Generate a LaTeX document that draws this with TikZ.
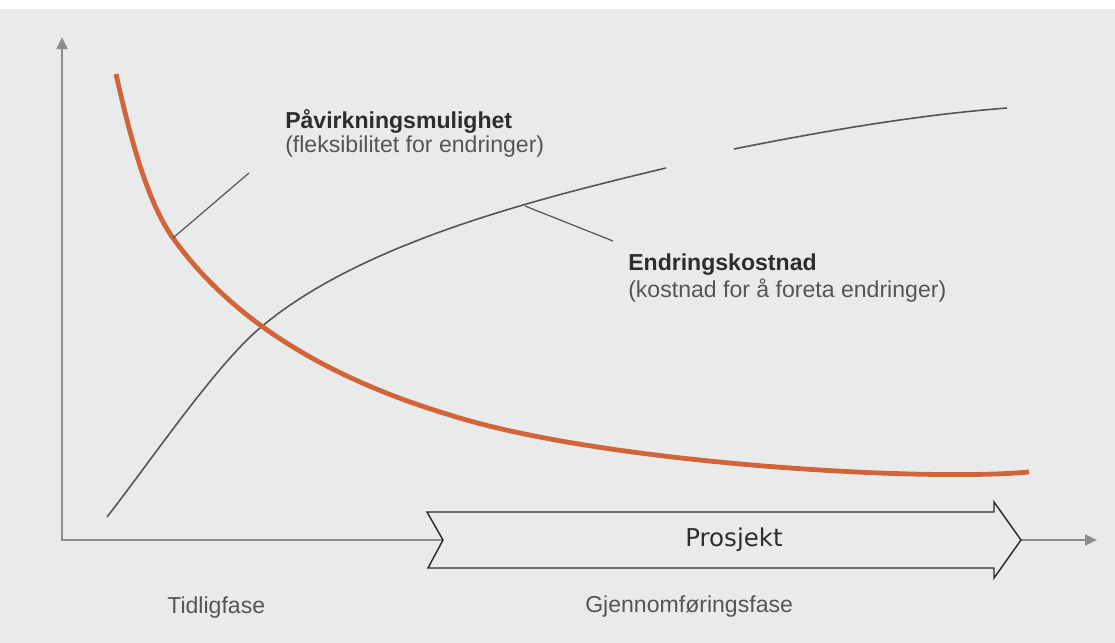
\documentclass[tikz,border=0pt]{standalone}
\usepackage{fontspec}
\setmainfont{Liberation Sans}
\newfontfamily\prosfont{DejaVu Sans}
\usetikzlibrary{arrows.meta}

\definecolor{paper}{RGB}{233,234,234}
\definecolor{curveorange}{RGB}{210,100,58}
\definecolor{axisgrey}{RGB}{140,140,140}
\definecolor{inkgrey}{RGB}{85,85,85}
\definecolor{inkdark}{RGB}{45,45,45}

\begin{document}
\begin{tikzpicture}[x=0.75pt, y=-0.75pt,
    axis/.style={draw=axisgrey, line width=1.9pt,
        {Triangle[width=8pt,length=9pt]}-{Triangle[width=8pt,length=9pt]}},
    costcurve/.style={draw=inkgrey, line width=1.2pt},
    flexcurve/.style={draw=curveorange, line width=3.6pt},
    leader/.style={draw=inkgrey, line width=0.9pt},
    headline/.style={anchor=base west, inner sep=0pt, text=inkdark,
        font=\fontsize{17.3}{20}\selectfont\bfseries},
    subline/.style={anchor=base west, inner sep=0pt, text=inkgrey,
        font=\fontsize{17.3}{20}\selectfont},
    phasebox/.style={draw=inkdark, fill=paper, line width=1.1pt, line join=miter}
]

    % Page background (scanned paper, white strip at the top)
    \fill[paper] (0,0) rectangle (1115,643);
    \fill[white] (0,0) rectangle (1115,9);
    \useasboundingbox (0,0) rectangle (1115,643);

    % Axes
    \coordinate (O) at (62,540);
    \coordinate (ytip) at (62,37);
    \coordinate (xtip) at (1097,540);
    \draw[axis] (ytip) -- (O) -- (xtip);

    % Points where the two curves meet and where the leaders start
    \coordinate (cross) at (260,328);
    \coordinate (flexpt) at (173,238);
    \coordinate (costpt) at (525,206);

    % Change cost curve (rising, with a break near the top)
    \draw[costcurve] (107,517) .. controls (150,462) and (215,366) .. (cross)
        .. controls (360,243) and (536,199) .. (666,168);
    \draw[costcurve] (734,149) .. controls (824,131) and (917,115) .. (1007,108);

    % Influence curve (falling, orange)
    \draw[flexcurve] (116,74) .. controls (131,141) and (148,203) .. (flexpt)
        .. controls (233,322) and (330,379) .. (450,415)
        .. controls (600,463) and (920,482) .. (1029,472);

    % Leader lines to the labels
    \coordinate (flexend) at (249,173);
    \coordinate (costend) at (613,241);
    \draw[leader] (flexpt) -- (flexend);
    \draw[leader] (costpt) -- (costend);

    % Curve labels
    \node[headline] (flexhead) at (285,128) {Påvirkningsmulighet};
    \node[subline] (flexsub) at (285,152) {(fleksibilitet for endringer)};
    \node[headline] (costhead) at (628,270) {Endringskostnad};
    \node[subline] (costsub) at (628,297) {(kostnad for å foreta endringer)};

    % Project arrow along the time axis
    \draw[phasebox] (427,512) -- (994,512) -- (994,502) -- (1021,540)
        -- (994,578) -- (994,568) -- (428,568) -- (443,540) -- cycle;
    \node[text=inkdark, font=\prosfont\fontsize{18.4}{20}\selectfont] (prosjekt) at (734,540) {Prosjekt};

    % Phase labels
    \node[subline] (tidlig) at (167,613) {Tidligfase};
    \node[subline] (gjennom) at (585,612) {Gjennomføringsfase};

\end{tikzpicture}
\end{document}
